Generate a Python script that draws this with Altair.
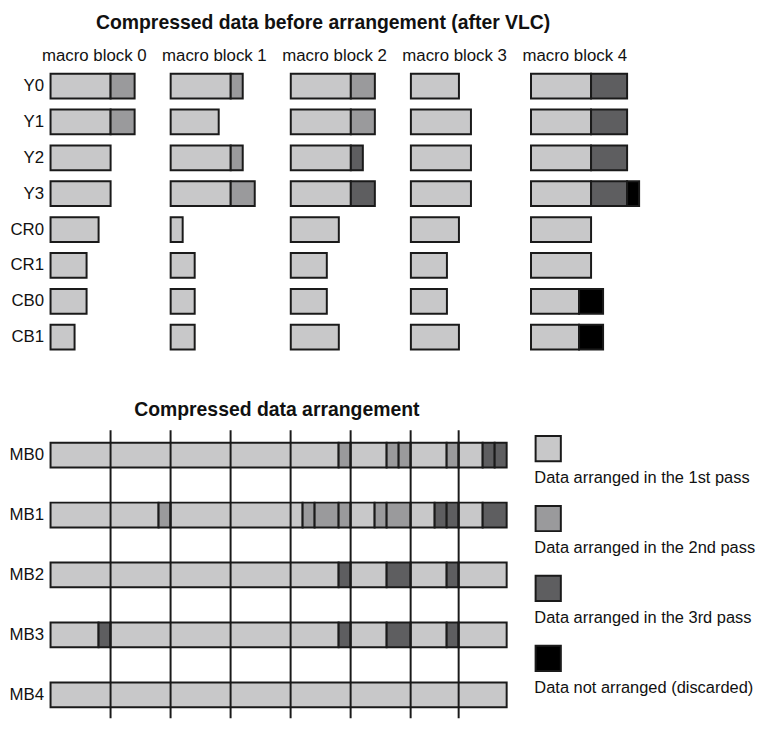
import altair as alt
import pandas as pd

FONT = "Liberation Sans"
INK = "#1a1a1a"

# ---- categories ----
components = ["Y0", "Y1", "Y2", "Y3", "CR0", "CR1", "CB0", "CB1"]
macro_blocks = ["macro block 0", "macro block 1", "macro block 2", "macro block 3", "macro block 4"]
pass_names = ["1st pass", "2nd pass", "3rd pass", "discarded"]
pass_colors = ["#c8c8c9", "#9a9a9c", "#5e5e60", "#000000"]
legend_texts = [
    "Data arranged in the 1st pass",
    "Data arranged in the 2nd pass",
    "Data arranged in the 3rd pass",
    "Data not arranged (discarded)",
]

# ---- compressed data after VLC: amount per component, split by pass [1st, 2nd, 3rd, discarded] ----
vlc_mb0 = [[5, 2, 0, 0], [5, 2, 0, 0], [5, 0, 0, 0], [5, 0, 0, 0], [4, 0, 0, 0], [3, 0, 0, 0], [3, 0, 0, 0], [2, 0, 0, 0]]
vlc_mb1 = [[5, 1, 0, 0], [4, 0, 0, 0], [5, 1, 0, 0], [5, 2, 0, 0], [1, 0, 0, 0], [2, 0, 0, 0], [2, 0, 0, 0], [2, 0, 0, 0]]
vlc_mb2 = [[5, 2, 0, 0], [5, 2, 0, 0], [5, 0, 1, 0], [5, 0, 2, 0], [4, 0, 0, 0], [3, 0, 0, 0], [3, 0, 0, 0], [4, 0, 0, 0]]
vlc_mb3 = [[4, 0, 0, 0], [5, 0, 0, 0], [5, 0, 0, 0], [5, 0, 0, 0], [4, 0, 0, 0], [3, 0, 0, 0], [3, 0, 0, 0], [4, 0, 0, 0]]
vlc_mb4 = [[5, 0, 3, 0], [5, 0, 3, 0], [5, 0, 3, 0], [5, 0, 3, 1], [5, 0, 0, 0], [5, 0, 0, 0], [4, 0, 0, 2], [4, 0, 0, 2]]
vlc_blocks = [vlc_mb0, vlc_mb1, vlc_mb2, vlc_mb3, vlc_mb4]
column_pitch = 10  # units reserved per macro block column

# ---- arranged data: sequence of (pass index, amount) per MB row ----
arranged_rows = ["MB0", "MB1", "MB2", "MB3", "MB4"]
arr_mb0 = [(0, 24), (1, 1), (0, 3), (1, 1), (1, 1), (0, 3), (1, 1), (0, 2), (2, 1), (2, 1)]
arr_mb1 = [(0, 9), (1, 1), (0, 11), (1, 1), (1, 2), (1, 1), (0, 2), (1, 1), (1, 2), (0, 2), (2, 1), (2, 1), (0, 2), (2, 2)]
arr_mb2 = [(0, 24), (2, 1), (0, 3), (2, 2), (0, 3), (2, 1), (0, 4)]
arr_mb3 = [(0, 4), (2, 1), (0, 19), (2, 1), (0, 3), (2, 2), (0, 3), (2, 1), (0, 4)]
arr_mb4 = [(0, 38)]
arranged = [arr_mb0, arr_mb1, arr_mb2, arr_mb3, arr_mb4]
slot_edges = [5, 10, 15, 20, 25, 30, 34]

# ---- build tables ----
top_rows = []
for b, block in enumerate(vlc_blocks):
    for c, amounts in enumerate(block):
        pos = b * column_pitch
        for p, amt in enumerate(amounts):
            if amt > 0:
                top_rows.append({"mb": macro_blocks[b], "component": components[c],
                                 "pass": pass_names[p], "x0": pos, "x1": pos + amt})
                pos += amt
top_df = pd.DataFrame(top_rows)

bot_rows = []
for r, seq in enumerate(arranged):
    pos = 0
    for p, amt in seq:
        bot_rows.append({"row": arranged_rows[r], "pass": pass_names[p], "x0": pos, "x1": pos + amt})
        pos += amt
bot_df = pd.DataFrame(bot_rows)
rule_df = pd.DataFrame({"edge": slot_edges})
legend_df = pd.DataFrame({"pass": pass_names, "label": legend_texts})

color = alt.Color("pass:N", scale=alt.Scale(domain=pass_names, range=pass_colors), legend=None)

# ---- top: before arrangement ----
top = alt.Chart(top_df).mark_bar(stroke=INK, strokeWidth=2).encode(
    x=alt.X("x0:Q", scale=alt.Scale(domain=[0, 50], nice=False, zero=False),
            axis=alt.Axis(orient="top", values=[i * column_pitch + 3.6 for i in range(5)],
                          labelExpr="'macro block ' + floor(datum.value / 10)",
                          ticks=False, domain=False, grid=False, title=None,
                          labelFlush=False, labelOverlap=False, labelBound=False,
                          labelFont=FONT, labelFontSize=17, labelColor="#111",
                          labelPadding=4)),
    x2="x1:Q",
    y=alt.Y("component:N", sort=components,
            scale=alt.Scale(paddingInner=0.31, paddingOuter=0.155, round=False),
            axis=alt.Axis(title=None, ticks=False, domain=False, labelFont=FONT,
                          labelFontSize=17, labelColor="#111", labelPadding=7,
                          minExtent=42, maxExtent=42)),
    color=color,
).properties(
    width=607, height=290,
    title=alt.Title("Compressed data before arrangement (after VLC)", font=FONT, fontSize=19.6,
                    fontWeight="bold", color="#111", anchor="middle", frame="group",
                    dx=-28, offset=13),
)

# ---- bottom: arrangement ----
bars = alt.Chart(bot_df).mark_bar(stroke=INK, strokeWidth=2).encode(
    x=alt.X("x0:Q", scale=alt.Scale(domain=[0, 38], nice=False, zero=False), axis=None),
    x2="x1:Q",
    y=alt.Y("row:N", sort=arranged_rows,
            scale=alt.Scale(paddingInner=0.587, paddingOuter=0.1945, align=0.53, round=False),
            axis=alt.Axis(title=None, ticks=False, domain=False, labelFont=FONT,
                          labelFontSize=17, labelColor="#111", labelPadding=7,
                          minExtent=42, maxExtent=42)),
    color=color,
)
rules = alt.Chart(rule_df).mark_rule(color=INK, strokeWidth=2).encode(
    x=alt.X("edge:Q", scale=alt.Scale(domain=[0, 38], nice=False, zero=False), axis=None),
)
bottom = alt.layer(bars, rules).properties(width=461, height=291)

# ---- legend ----
ly = alt.Y("pass:N", sort=pass_names, axis=None,
           scale=alt.Scale(type="point", padding=0.559, align=0.234, round=False))
squares = alt.Chart(legend_df).mark_square(size=650, filled=True, opacity=1,
                                           stroke=INK, strokeWidth=2).encode(
    x=alt.value(14), y=ly, color=color)
labels = alt.Chart(legend_df).mark_text(align="left", baseline="alphabetic", dy=35,
                                        font=FONT, fontSize=16.6, color="#111").encode(
    x=alt.value(0), y=ly, text="label:N")
legend = alt.layer(squares, labels).properties(width=200, height=291)

bottom_row = alt.hconcat(bottom, legend, spacing=22).properties(
    title=alt.Title("Compressed data arrangement", font=FONT, fontSize=19.6, fontWeight="bold",
                    color="#111", anchor="start", dx=127, offset=8)
)

chart = alt.vconcat(top, bottom_row, spacing=44).properties(padding=0).configure_view(
    stroke="transparent")

chart.save("out.html", embed_options={"renderer": "svg", "actions": False})
